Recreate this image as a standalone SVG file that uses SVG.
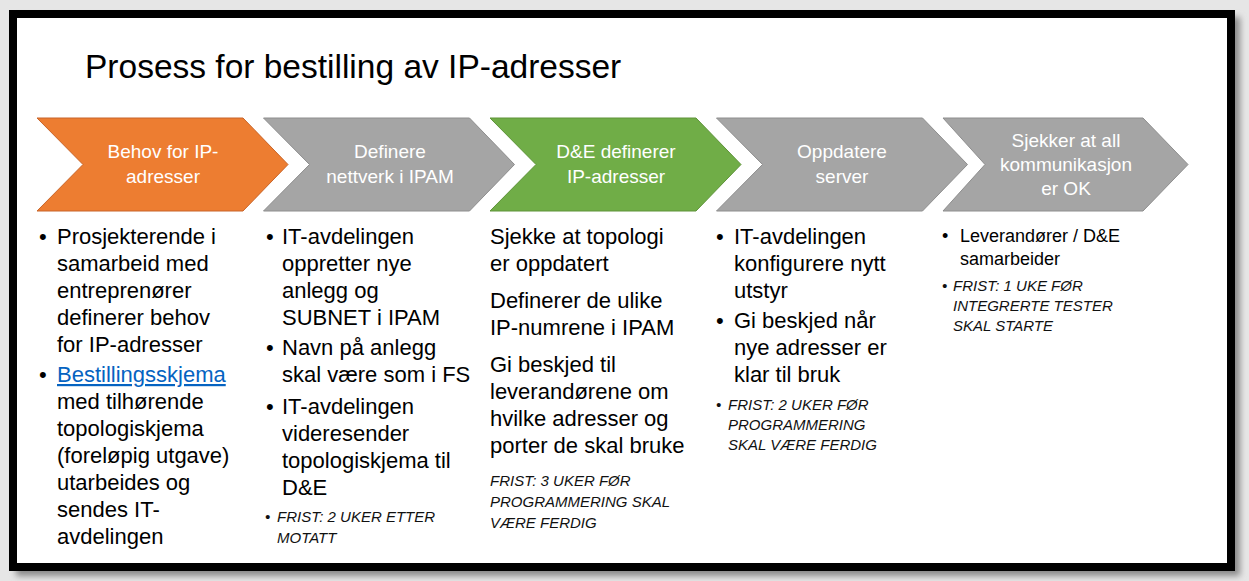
<svg xmlns="http://www.w3.org/2000/svg" width="1249" height="581" viewBox="0 0 1249 581">
<defs>
<filter id="sh" x="-5%" y="-5%" width="110%" height="110%"><feGaussianBlur stdDeviation="3"/></filter>
<style>
.t{font-family:"Liberation Sans",Arial,sans-serif;fill:#000}
.lab{font-family:"Liberation Sans",Arial,sans-serif;fill:#fff;font-size:19px;text-anchor:middle}
.b{font-size:22px}
.s{font-size:18px}
.i{font-size:15px;font-style:italic;fill:#111}
.or{fill:#ED7D31;stroke:#C8652A;stroke-width:1}
.gr{fill:#A5A5A5;stroke:#8E8E8E;stroke-width:1}
.gn{fill:#70AD47;stroke:#5E9339;stroke-width:1}
</style>
</defs>
<rect x="0" y="0" width="1249" height="581" fill="#e6e6e6"/>
<rect x="13" y="14" width="1224" height="559" fill="#8a8a8a" filter="url(#sh)" transform="translate(3,3)"/>
<rect x="13" y="14" width="1218" height="553" fill="#fff" stroke="#000" stroke-width="8"/>
<text class="t" x="85" y="78" font-size="33.5">Prosess for bestilling av IP-adresser</text>

<g id="connectors"></g>

<g id="step1">
<polygon class="or" points="37,118 243,118 288,164.5 243,211 37,211 83,164.5"/>
<text class="lab" x="163" y="158">Behov for IP-</text>
<text class="lab" x="163" y="183">adresser</text>
</g>
<g id="step2">
<polygon class="gr" points="263.5,118 469.5,118 514.5,164.5 469.5,211 263.5,211 309.5,164.5"/>
<text class="lab" x="390" y="158">Definere</text>
<text class="lab" x="390" y="183">nettverk i IPAM</text>
</g>
<g id="step3">
<polygon class="gn" points="490,118 696,118 741,164.5 696,211 490,211 536,164.5"/>
<text class="lab" x="616" y="158">D&amp;E definerer</text>
<text class="lab" x="616" y="183">IP-adresser</text>
</g>
<g id="step4">
<polygon class="gr" points="716.5,118 922.5,118 967.5,164.5 922.5,211 716.5,211 762.5,164.5"/>
<text class="lab" x="842" y="158">Oppdatere</text>
<text class="lab" x="842" y="183">server</text>
</g>
<g id="step5">
<polygon class="gr" points="943,118 1143,118 1188,164.5 1143,211 943,211 985,164.5"/>
<text class="lab" x="1066" y="147">Sjekker at all</text>
<text class="lab" x="1066" y="171">kommunikasjon</text>
<text class="lab" x="1066" y="195">er OK</text>
</g>

<g id="details1">
<text class="t b" x="39" y="244">•</text>
<text class="t b" x="57" y="244">Prosjekterende i</text>
<text class="t b" x="57" y="271">samarbeid med</text>
<text class="t b" x="57" y="298">entreprenører</text>
<text class="t b" x="57" y="325">definerer behov</text>
<text class="t b" x="57" y="352">for IP-adresser</text>
<text class="t b" x="39" y="382">•</text>
<text class="b" x="57" y="382" fill="#0563C1" font-family="Liberation Sans, Arial, sans-serif" text-decoration="underline">Bestillingsskjema</text>
<text class="t b" x="57" y="409">med tilhørende</text>
<text class="t b" x="57" y="436">topologiskjema</text>
<text class="t b" x="57" y="463">(foreløpig utgave)</text>
<text class="t b" x="57" y="490">utarbeides og</text>
<text class="t b" x="57" y="517">sendes IT-</text>
<text class="t b" x="57" y="544">avdelingen</text>
</g>

<g id="details2">
<text class="t b" x="266" y="244">•</text>
<text class="t b" x="282" y="244">IT-avdelingen</text>
<text class="t b" x="282" y="271">oppretter nye</text>
<text class="t b" x="282" y="298">anlegg og</text>
<text class="t b" x="282" y="325">SUBNET i IPAM</text>
<text class="t b" x="266" y="355">•</text>
<text class="t b" x="282" y="355">Navn på anlegg</text>
<text class="t b" x="282" y="382">skal være som i FS</text>
<text class="t b" x="266" y="414">•</text>
<text class="t b" x="282" y="414">IT-avdelingen</text>
<text class="t b" x="282" y="441">videresender</text>
<text class="t b" x="282" y="468">topologiskjema til</text>
<text class="t b" x="282" y="495">D&amp;E</text>
<text class="t i" x="265" y="522" font-style="normal">•</text>
<text class="t i" x="277" y="522">FRIST: 2 UKER ETTER</text>
<text class="t i" x="277" y="543">MOTATT</text>
</g>

<g id="details3">
<text class="t b" x="490" y="244">Sjekke at topologi</text>
<text class="t b" x="490" y="271">er oppdatert</text>
<text class="t b" x="490" y="308">Definerer de ulike</text>
<text class="t b" x="490" y="335">IP-numrene i IPAM</text>
<text class="t b" x="490" y="372">Gi beskjed til</text>
<text class="t b" x="490" y="399">leverandørene om</text>
<text class="t b" x="490" y="426">hvilke adresser og</text>
<text class="t b" x="490" y="453">porter de skal bruke</text>
<text class="t i" x="490" y="486">FRIST: 3 UKER FØR</text>
<text class="t i" x="490" y="507">PROGRAMMERING SKAL</text>
<text class="t i" x="490" y="528">VÆRE FERDIG</text>
</g>

<g id="details4">
<text class="t b" x="716" y="244">•</text>
<text class="t b" x="734" y="244">IT-avdelingen</text>
<text class="t b" x="734" y="271">konfigurere nytt</text>
<text class="t b" x="734" y="298">utstyr</text>
<text class="t b" x="716" y="328">•</text>
<text class="t b" x="734" y="328">Gi beskjed når</text>
<text class="t b" x="734" y="355">nye adresser er</text>
<text class="t b" x="734" y="382">klar til bruk</text>
<text class="t i" x="716" y="410" font-style="normal">•</text>
<text class="t i" x="728" y="410">FRIST: 2 UKER FØR</text>
<text class="t i" x="728" y="430">PROGRAMMERING</text>
<text class="t i" x="728" y="450">SKAL VÆRE FERDIG</text>
</g>

<g id="details5">
<text class="t s" x="942" y="242">•</text>
<text class="t s" x="960" y="242">Leverandører / D&amp;E</text>
<text class="t s" x="960" y="265">samarbeider</text>
<text class="t i" x="942" y="291" font-style="normal">•</text>
<text class="t i" x="953" y="291">FRIST: 1 UKE FØR</text>
<text class="t i" x="953" y="311">INTEGRERTE TESTER</text>
<text class="t i" x="953" y="331">SKAL STARTE</text>
</g>
</svg>
